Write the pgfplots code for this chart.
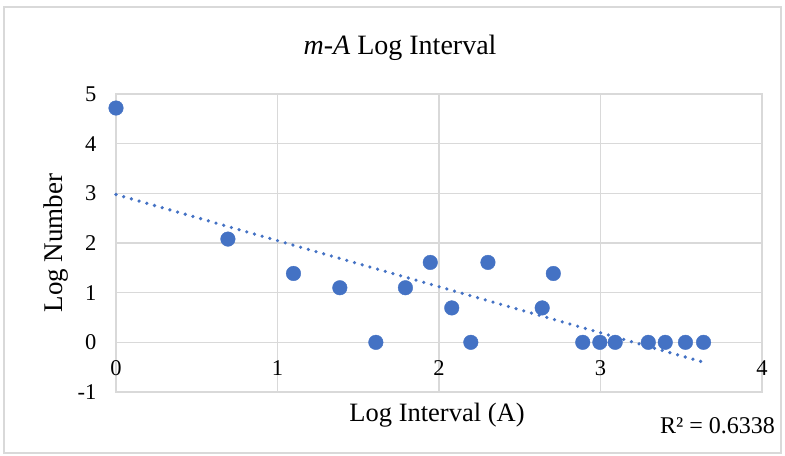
\documentclass[border=0pt]{standalone}
\usepackage{pgfplots}
\usepackage{pgfplotstable}
\pgfplotsset{compat=1.18}
\usepackage{fontspec}
\setmainfont{Liberation Serif}
\definecolor{xblue}{HTML}{4472C4}
\definecolor{xgrid}{HTML}{D9D9D9}
\pgfplotstableread{
x y
0.000 4.718
0.693 2.079
1.099 1.386
1.386 1.099
1.609 0.000
1.792 1.099
1.946 1.609
2.079 0.693
2.197 0.000
2.303 1.609
2.639 0.693
2.708 1.386
2.890 0.000
2.996 0.000
3.091 0.000
3.296 0.000
3.401 0.000
3.526 0.000
3.638 0.000
}\datatable
\begin{document}
\begin{tikzpicture}
\useasboundingbox (0,0) rectangle (785bp,456bp);
\draw[xgrid, line width=1.2bp] (4bp,3bp) rectangle (781bp,449bp);
\begin{axis}[
  at={(116bp,64bp)}, anchor=south west,
  scale only axis, width=646bp, height=298bp,
  xmin=0, xmax=4, ymin=-1, ymax=5,
  xtick={0,1,2,3,4}, ytick={-1,0,1,2,3,4,5},
  grid=major,
  grid style={xgrid, line width=1.3bp},
  axis line style={xgrid, line width=1.3bp},
  major tick length=0pt,
  tick style={draw=none},
  /pgf/number format/assume math mode=true,
  ticklabel style={font=\fontsize{22.5bp}{24bp}\selectfont, text=black},
  xticklabel style={yshift=35bp},
  yticklabel style={xshift=-16bp},
  clip=false,
]
\addplot[only marks, mark=*, mark size=7.3bp, color=xblue, mark options={fill=xblue, draw=xblue}] table[x=x,y=y] {\datatable};
\addplot[xblue, line width=3.6bp, line cap=round, dash pattern=on 0bp off 8bp, no markers]
  table[x=x, y={create col/linear regression={y=y}}] {\datatable};
\end{axis}
\node[anchor=base, font=\fontsize{28bp}{32bp}\selectfont] at (400bp,401bp) {\textit{m}-\textit{A} Log Interval};
\node[anchor=base, font=\fontsize{26.5bp}{30bp}\selectfont] at (437bp,35bp) {Log Interval (A)};
\node[anchor=base, rotate=90, font=\fontsize{27bp}{30bp}\selectfont] at (62bp,213bp) {Log Number};
\node[anchor=base east, font=\fontsize{24bp}{28bp}\selectfont, inner sep=0pt] at (775bp,23bp) {R² = 0.6338};
\end{tikzpicture}
\end{document}
